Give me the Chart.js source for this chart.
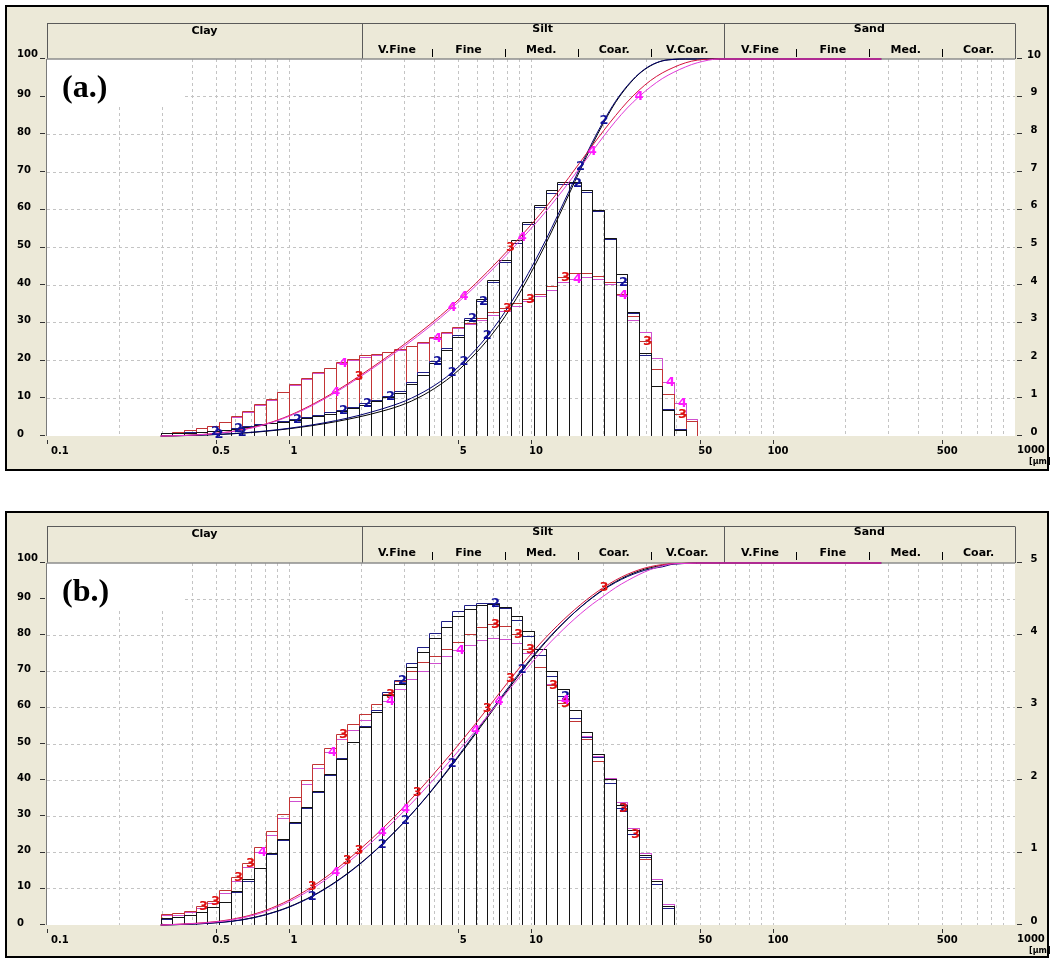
<!DOCTYPE html>
<html>
<head>
<meta charset="utf-8">
<script src="https://cdn.jsdelivr.net/npm/chart.js@4.4.1/dist/chart.umd.min.js"></script>
<style>
  html, body { margin: 0; padding: 0; background: #fff; }
  #wrap { position: relative; width: 1052px; height: 959px; overflow: hidden; }
  canvas { position: absolute; left: 0; }
</style>
</head>
<body>
<div id="wrap">
  <canvas id="ca" width="1052" height="478" style="top:0px"></canvas>
  <canvas id="cb" width="1052" height="481" style="top:478px"></canvas>
</div>
<script>
// ---- size classes (µm): channel edges of the particle sizer ----
const sizeEdges = [0.2950, 0.3296, 0.3683, 0.4115, 0.4598, 0.5138, 0.5741, 0.6415, 0.7168, 0.8009, 0.8949,
  1.0, 1.1174, 1.2486, 1.3951, 1.5589, 1.7418, 1.9463, 2.1747, 2.4300, 2.7152,
  3.0339, 3.3900, 3.7879, 4.2325, 4.7293, 5.2845, 5.9047, 6.5978, 7.3722, 8.2375,
  9.2045, 10.285, 11.492, 12.841, 14.348, 16.032, 17.914, 20.016, 22.366, 24.991,
  27.925, 31.202, 34.864, 38.957, 43.530, 48.641];
// cumulative curves stay at 100 % past the last channel
const tailSizes = [60, 280];
const tailPct = [100, 100];

// ---- axis ticks ----
const xTickValues = [0.1, 0.5, 1, 5, 10, 50, 100, 500, 1000];
const xTickText = ['0.1', '0.5', '1', '5', '10', '50', '100', '500', '1000'];
const gridSizes = [0.2, 0.3, 0.4, 0.5, 0.6, 0.7, 0.8, 0.9, 1, 2, 3, 4, 5, 6, 7, 8, 9,
  10, 20, 30, 40, 50, 60, 70, 80, 90, 100, 200, 300, 400, 500, 600, 700, 800, 900];

// ---- grain-size classes shown in the header band ----
const classNames = ['Clay', 'Silt', 'Sand'];
const classBounds = [0.1, 2, 62.5, 1000];
const siltNames = ['V.Fine', 'Fine', 'Med.', 'Coar.', 'V.Coar.'];
const siltBounds = [2, 3.9, 7.8, 15.6, 31.25, 62.5];
const sandNames = ['V.Fine', 'Fine', 'Med.', 'Coar.'];
const sandBounds = [62.5, 125, 250, 500, 1000];

// ---- sample (a): volume % per channel ----
const histA1 = [0.04, 0.05, 0.06, 0.08, 0.10, 0.13, 0.17, 0.22, 0.27, 0.31, 0.35,
  0.40, 0.45, 0.50, 0.57, 0.64, 0.72, 0.80, 0.90, 1.00, 1.12,
  1.35, 1.60, 1.90, 2.25, 2.60, 3.04, 3.60, 4.10, 4.63, 5.16, 5.65,
  6.11, 6.49, 6.71, 6.71, 6.49, 5.96, 5.22, 4.26, 3.27, 2.18, 1.29, 0.66, 0.13];
const histA2 = [0.04, 0.05, 0.07, 0.09, 0.11, 0.14, 0.18, 0.23, 0.28, 0.32, 0.37,
  0.42, 0.47, 0.53, 0.60, 0.67, 0.75, 0.84, 0.93, 1.04, 1.17,
  1.40, 1.66, 1.95, 2.30, 2.66, 3.10, 3.55, 4.05, 4.58, 5.10, 5.60,
  6.05, 6.42, 6.65, 6.68, 6.45, 5.95, 5.20, 4.05, 3.23, 2.11, 1.29, 0.68, 0.15];
const histA3 = [0.05, 0.09, 0.13, 0.19, 0.25, 0.35, 0.50, 0.63, 0.81, 0.96, 1.15,
  1.35, 1.52, 1.67, 1.79, 1.93, 2.02, 2.11, 2.15, 2.21, 2.28,
  2.37, 2.48, 2.59, 2.73, 2.86, 2.98, 3.10, 3.25, 3.38, 3.50, 3.62,
  3.75, 3.95, 4.20, 4.30, 4.30, 4.22, 4.05, 3.75, 3.15, 2.50, 1.75, 1.09, 0.56, 0.38];
const histA4 = [0.04, 0.08, 0.12, 0.18, 0.24, 0.34, 0.48, 0.61, 0.79, 0.94, 1.13,
  1.32, 1.49, 1.64, 1.77, 1.91, 2.00, 2.08, 2.13, 2.19, 2.26,
  2.35, 2.45, 2.56, 2.70, 2.83, 2.95, 3.05, 3.18, 3.30, 3.42, 3.55,
  3.68, 3.85, 4.05, 4.15, 4.20, 4.15, 4.00, 3.72, 3.05, 2.73, 2.05, 1.40, 0.84, 0.42];

// ---- sample (a): cumulative % at each channel edge ----
const cumA1 = [0, 0.05, 0.11, 0.19, 0.29, 0.41, 0.56, 0.75, 0.98, 1.25, 1.56,
  1.92, 2.32, 2.76, 3.25, 3.8, 4.4, 5.05, 5.78, 6.6, 7.5,
  8.6, 10.0, 11.7, 13.7, 16.0, 18.8, 21.9, 25.4, 29.4, 34.0, 39.1,
  44.8, 50.9, 57.4, 64.1, 70.8, 77.3, 83.2, 88.5, 92.7, 96.0, 98.2, 99.5, 99.9, 100, 100];
const cumA2 = [0, 0.05, 0.12, 0.21, 0.32, 0.45, 0.61, 0.81, 1.05, 1.34, 1.67,
  2.05, 2.48, 2.95, 3.48, 4.07, 4.73, 5.47, 6.3, 7.2, 8.2,
  9.35, 10.8, 12.5, 14.5, 16.9, 19.7, 22.9, 26.5, 30.6, 35.2, 40.3,
  45.9, 51.9, 58.3, 64.9, 71.5, 77.9, 83.7, 88.8, 92.9, 96.1, 98.3, 99.5, 99.9, 100, 100];
const cumA3 = [0, 0.05, 0.15, 0.3, 0.5, 0.8, 1.15, 1.7, 2.35, 3.2, 4.2,
  5.4, 6.8, 8.35, 10.05, 11.85, 13.8, 15.85, 17.95, 20.1, 22.3,
  24.6, 26.95, 29.4, 31.95, 34.65, 37.5, 40.45, 43.5, 46.7, 50.0, 53.4,
  56.9, 60.6, 64.5, 68.6, 72.8, 77.0, 81.1, 85.0, 88.6, 91.7, 94.3, 96.3, 97.8, 99.0, 99.7];
const cumA4 = [0, 0.05, 0.14, 0.28, 0.47, 0.76, 1.1, 1.62, 2.25, 3.07, 4.05,
  5.22, 6.58, 8.1, 9.78, 11.55, 13.48, 15.5, 17.58, 19.7, 21.85,
  24.1, 26.42, 28.85, 31.38, 34.05, 36.88, 39.8, 42.8, 45.95, 49.2, 52.5,
  55.9, 59.5, 63.3, 67.3, 71.4, 75.5, 79.6, 83.5, 87.0, 90.0, 92.6, 94.8, 96.5, 97.9, 99.0];

// ---- sample (b): volume % per channel ----
const histB1 = [0.08, 0.09, 0.12, 0.17, 0.24, 0.31, 0.46, 0.62, 0.78, 0.98, 1.17,
  1.41, 1.61, 1.84, 2.07, 2.28, 2.51, 2.72, 2.93, 3.16, 3.32,
  3.55, 3.76, 3.95, 4.10, 4.25, 4.35, 4.40, 4.42, 4.38, 4.25, 4.05,
  3.80, 3.50, 3.25, 2.95, 2.65, 2.35, 2.00, 1.65, 1.30, 0.95, 0.60, 0.25];
const histB2 = [0.07, 0.09, 0.12, 0.16, 0.23, 0.30, 0.44, 0.60, 0.78, 0.97, 1.16,
  1.40, 1.60, 1.83, 2.06, 2.29, 2.52, 2.74, 2.96, 3.20, 3.37,
  3.60, 3.82, 4.02, 4.18, 4.32, 4.40, 4.44, 4.44, 4.36, 4.20, 3.98,
  3.72, 3.42, 3.15, 2.85, 2.58, 2.30, 1.95, 1.60, 1.25, 0.92, 0.55, 0.22];
const histB3 = [0.14, 0.15, 0.18, 0.25, 0.32, 0.47, 0.65, 0.84, 1.06, 1.29, 1.52,
  1.76, 1.99, 2.21, 2.43, 2.63, 2.76, 2.90, 3.04, 3.17, 3.36,
  3.50, 3.62, 3.70, 3.80, 3.90, 4.00, 4.10, 4.15, 4.12, 4.00, 3.80,
  3.55, 3.30, 3.05, 2.80, 2.55, 2.25, 1.95, 1.60, 1.25, 0.90, 0.55, 0.25];
const histB4 = [0.12, 0.13, 0.16, 0.22, 0.29, 0.43, 0.60, 0.79, 1.00, 1.23, 1.46,
  1.70, 1.93, 2.15, 2.37, 2.55, 2.68, 2.82, 2.96, 3.08, 3.24,
  3.38, 3.50, 3.60, 3.70, 3.78, 3.86, 3.92, 3.95, 3.94, 3.88, 3.75,
  3.55, 3.32, 3.10, 2.85, 2.60, 2.32, 2.02, 1.68, 1.33, 0.98, 0.62, 0.28];

// ---- sample (b): cumulative % at each channel edge ----
const cumB1 = [0, 0.08, 0.17, 0.29, 0.46, 0.70, 1.01, 1.47, 2.09, 2.87, 3.85,
  5.02, 6.43, 8.04, 9.88, 11.95, 14.23, 16.74, 19.46, 22.39, 25.55,
  28.87, 32.42, 36.18, 40.13, 44.23, 48.48, 52.83, 57.23, 61.65, 66.03, 70.28,
  74.33, 78.13, 81.63, 84.88, 87.83, 90.48, 92.83, 94.83, 96.48, 97.78, 98.73, 99.33, 99.8];
const cumB2 = [0, 0.07, 0.16, 0.28, 0.44, 0.67, 0.97, 1.41, 2.01, 2.79, 3.76,
  4.92, 6.32, 7.92, 9.75, 11.81, 14.1, 16.62, 19.36, 22.32, 25.52,
  28.89, 32.49, 36.31, 40.33, 44.51, 48.83, 53.23, 57.67, 62.11, 66.47, 70.67,
  74.65, 78.37, 81.79, 84.94, 87.79, 90.37, 92.67, 94.62, 96.22, 97.47, 98.39, 98.94, 99.7];
const cumB3 = [0, 0.14, 0.29, 0.47, 0.72, 1.04, 1.51, 2.16, 3.0, 4.06, 5.35,
  6.87, 8.63, 10.62, 12.83, 15.26, 17.89, 20.65, 23.55, 26.59, 29.76,
  33.12, 36.62, 40.24, 43.94, 47.74, 51.64, 55.64, 59.74, 63.89, 68.01, 72.01,
  75.81, 79.36, 82.66, 85.71, 88.51, 91.06, 93.31, 95.26, 96.86, 98.11, 99.01, 99.56, 99.85];
const cumB4 = [0, 0.12, 0.25, 0.41, 0.63, 0.92, 1.35, 1.95, 2.74, 3.74, 4.97,
  6.43, 8.13, 10.06, 12.21, 14.58, 17.13, 19.81, 22.63, 25.59, 28.67,
  31.91, 35.29, 38.79, 42.39, 46.09, 49.87, 53.73, 57.65, 61.60, 65.54, 69.42,
  73.17, 76.72, 80.04, 83.14, 86.0, 88.6, 90.92, 93.2, 95.1, 96.8, 98.2, 99.2, 99.8];

// ---- channels / edges that carry the run number on each trace (channel index k, 1 µm = 0) ----
const histMarksA2 = [-7, -5, 0, 4, 6, 8, 12, 15, 16, 24, 28];
const cumMarksA2 = [-6, -4, 14, 15, 17, 25, 27];
const histMarksA3 = [18, 20, 23, 30, 33];
const cumMarksA3 = [6, 19];
const histMarksA4 = [4, 12, 24, 28, 32, 33];
const cumMarksA4 = [4, 14, 15, 20, 26, 30];

const histMarksB2 = [9, 17, 23, 28];
const cumMarksB2 = [2, 8, 10, 14, 20];
const histMarksB3 = [-8, -7, -5, -4, 4, 8, 17, 19, 20, 22, 23, 28, 29];
const cumMarksB3 = [2, 5, 6, 11, 17, 19, 27];
const histMarksB4 = [-3, 3, 8, 14, 23];
const cumMarksB4 = [4, 8, 10, 16, 18];

// ---- look of the four runs ----
const runStyle = [
  { digit: '1', hist: '#141414', curve: '#000000', mark: '#000000' },
  { digit: '2', hist: '#1e1e86', curve: '#00006e', mark: '#10109a' },
  { digit: '3', hist: '#c23434', curve: '#d4103c', mark: '#e01010' },
  { digit: '4', hist: '#cf4fcf', curve: '#e03ad8', mark: '#ff18ff' }
];

const FIRST_K = -11; // channel index of sizeEdges[0]

// outline of a channel histogram: each channel as an open box standing on the axis
function outline(vals) {
  const pts = [];
  vals.forEach((v, j) => {
    pts.push({ x: sizeEdges[j], y: 0 }, { x: sizeEdges[j], y: v },
             { x: sizeEdges[j + 1], y: v }, { x: sizeEdges[j + 1], y: 0 });
  });
  return pts;
}
function curve(vals) {
  const pts = vals.map((v, i) => ({ x: sizeEdges[i], y: v }));
  tailSizes.forEach((s, i) => pts.push({ x: s, y: tailPct[i] }));
  return pts;
}

const PANELS = [
  {
    canvas: 'ca', tag: '(a.)', rightMax: 10, height: 478,
    box: { left: 6, top: 6, right: 1048, bottom: 470 },
    headerTop: 23, plotTop: 59, plotBottom: 436,
    runs: [
      { style: 0, hist: histA1, cum: cumA1, hm: [], cm: [] },
      { style: 1, hist: histA2, cum: cumA2, hm: histMarksA2, cm: cumMarksA2 },
      { style: 2, hist: histA3, cum: cumA3, hm: histMarksA3, cm: cumMarksA3 },
      { style: 3, hist: histA4, cum: cumA4, hm: histMarksA4, cm: cumMarksA4 }
    ]
  },
  {
    canvas: 'cb', tag: '(b.)', rightMax: 5, height: 481,
    box: { left: 6, top: 34, right: 1048, bottom: 479 },
    headerTop: 48, plotTop: 85, plotBottom: 447,
    runs: [
      { style: 0, hist: histB1, cum: cumB1, hm: [], cm: [] },
      { style: 1, hist: histB2, cum: cumB2, hm: histMarksB2, cm: cumMarksB2 },
      { style: 2, hist: histB3, cum: cumB3, hm: histMarksB3, cm: cumMarksB3 },
      { style: 3, hist: histB4, cum: cumB4, hm: histMarksB4, cm: cumMarksB4 }
    ]
  }
];

const PLOT_LEFT = 47, PLOT_RIGHT = 1015;
const BEIGE = '#ece9d8';
const UI_FONT = '"DejaVu Sans", "Liberation Sans", sans-serif';

// keeps the channel outlines on whole pixels so the box edges stay sharp
const crispBoxes = {
  id: 'crispBoxes',
  beforeDatasetDraw(chart, args) {
    const ds = chart.data.datasets[args.index];
    if (!ds.crisp) return;
    args.meta.data.forEach(pt => {
      pt.x = Math.round(pt.x) + 0.5;
      pt.y = Math.round(pt.y) - 0.5;
    });
  }
};

// draws the run numbers sitting on the traces
const runDigits = {
  id: 'runDigits',
  afterDatasetsDraw(chart) {
    const ctx = chart.ctx;
    chart.data.datasets.forEach((ds, i) => {
      if (!ds.markIdx || !ds.markIdx.length) return;
      const meta = chart.getDatasetMeta(i);
      ctx.save();
      ctx.font = 'bold 13px ' + UI_FONT;
      ctx.fillStyle = ds.markColor;
      ctx.textAlign = 'center';
      ctx.textBaseline = 'middle';
      ds.markIdx.forEach(idx => {
        const p = meta.data[idx];
        if (p) ctx.fillText(ds.markText, p.x + ds.markDx, p.y);
      });
      ctx.restore();
    });
  }
};

function makeChrome(P) {
  return {
    id: 'chrome',
    beforeDraw(chart) {
      const { ctx, chartArea: ca, scales } = chart;
      const x = scales.x, yL = scales.yL, yR = scales.yR;
      ctx.save();
      ctx.fillStyle = '#fff';
      ctx.fillRect(0, 0, chart.width, chart.height);
      const b = P.box;
      ctx.fillStyle = BEIGE;
      ctx.fillRect(b.left, b.top, b.right - b.left, b.bottom - b.top);
      ctx.strokeStyle = '#000';
      ctx.lineWidth = 2;
      ctx.strokeRect(b.left, b.top, b.right - b.left, b.bottom - b.top);
      ctx.fillStyle = '#fff';
      ctx.fillRect(ca.left, ca.top, ca.right - ca.left, ca.bottom - ca.top);

      // header band with the grain-size classes
      const hTop = P.headerTop + 0.5, hBot = ca.top;
      ctx.strokeStyle = '#5a5a5a';
      ctx.lineWidth = 1;
      ctx.beginPath();
      ctx.moveTo(ca.left, hTop); ctx.lineTo(ca.right, hTop);
      classBounds.forEach(v => {
        const px = Math.round(x.getPixelForValue(v)) + 0.5;
        ctx.moveTo(px, hTop); ctx.lineTo(px, hBot);
      });
      ctx.stroke();
      ctx.fillStyle = '#000';
      ctx.font = 'bold 11px ' + UI_FONT;
      ctx.textAlign = 'center';
      ctx.textBaseline = 'middle';
      classNames.forEach((n, i) => {
        const cx = (x.getPixelForValue(classBounds[i]) + x.getPixelForValue(classBounds[i + 1])) / 2;
        ctx.fillText(n, cx, P.headerTop + (i === 0 ? 8.5 : 6.5));
      });
      const subRow = (names, bounds) => {
        names.forEach((n, i) => {
          const cx = (x.getPixelForValue(bounds[i]) + x.getPixelForValue(bounds[i + 1])) / 2;
          ctx.fillText(n, cx, P.headerTop + 27.5);
        });
        ctx.beginPath();
        bounds.slice(1, -1).forEach(v => {
          const px = Math.round(x.getPixelForValue(v)) + 0.5;
          ctx.moveTo(px, P.headerTop + 26); ctx.lineTo(px, P.headerTop + 34);
        });
        ctx.strokeStyle = '#000';
        ctx.stroke();
      };
      subRow(siltNames, siltBounds);
      subRow(sandNames, sandBounds);

      // left axis: cumulative %
      ctx.font = 'bold 10px ' + UI_FONT;
      ctx.textAlign = 'left';
      ctx.strokeStyle = '#333';
      for (let v = 0; v <= 100; v += 10) {
        const py = yL.getPixelForValue(v);
        ctx.fillText(String(v), 17, v === 100 ? py - 5 : py - 2);
        ctx.beginPath();
        ctx.moveTo(40, Math.round(py) - 0.5); ctx.lineTo(45, Math.round(py) - 0.5);
        ctx.stroke();
      }
      // right axis: % per channel
      ctx.textAlign = 'center';
      for (let v = 0; v <= P.rightMax; v += 1) {
        const py = yR.getPixelForValue(v);
        ctx.fillText(String(v), 1034, py - 4);
        ctx.beginPath();
        ctx.moveTo(1017, Math.round(py) - 0.5); ctx.lineTo(1022, Math.round(py) - 0.5);
        ctx.stroke();
      }
      // size axis
      xTickValues.forEach((v, i) => {
        const px = x.getPixelForValue(v);
        const last = i === xTickValues.length - 1;
        if (i === 0) { ctx.textAlign = 'left'; ctx.fillText(xTickText[i], px + 4, ca.bottom + 15); }
        else if (last) { ctx.textAlign = 'left'; ctx.fillText(xTickText[i], px + 2, ca.bottom + 14); }
        else { ctx.textAlign = 'center'; ctx.fillText(xTickText[i], px + 5, ca.bottom + 15); }
        if (!last) {
          ctx.beginPath();
          ctx.moveTo(Math.round(px) + 0.5, ca.bottom + 4); ctx.lineTo(Math.round(px) + 0.5, ca.bottom + 8);
          ctx.stroke();
        }
      });
      ctx.textAlign = 'left';
      ctx.font = 'bold 8px ' + UI_FONT;
      ctx.fillText('[µm]', 1029, ca.bottom + 26);
      ctx.restore();
    },
    beforeDatasetsDraw(chart) {
      const { ctx, chartArea: ca } = chart;
      ctx.save();
      // sample tag on its own white patch
      ctx.fillStyle = '#fff';
      ctx.fillRect(ca.left, ca.top, 136, 48);
      ctx.fillStyle = '#000';
      ctx.font = 'bold 32px "Liberation Serif", "Times New Roman", serif';
      ctx.textAlign = 'left';
      ctx.textBaseline = 'alphabetic';
      ctx.fillText(P.tag, 62, ca.top + 38);
      // top edge of the plot and the left axis line
      ctx.strokeStyle = '#8c8c8c';
      ctx.lineWidth = 1.5;
      ctx.beginPath();
      ctx.moveTo(ca.left, ca.top); ctx.lineTo(ca.right, ca.top);
      ctx.stroke();
      ctx.strokeStyle = '#7a7a7a';
      ctx.lineWidth = 1;
      ctx.beginPath();
      ctx.moveTo(ca.left - 0.5, ca.top); ctx.lineTo(ca.left - 0.5, ca.bottom);
      ctx.stroke();
      ctx.restore();
    }
  };
}

function buildPanel(P) {
  const datasets = [];
  P.runs.forEach((r, si) => {
    const st = runStyle[r.style];
    datasets.push({
      label: 'cumulative ' + st.digit,
      data: curve(r.cum),
      yAxisID: 'yL',
      borderColor: st.curve,
      borderWidth: 1,
      pointRadius: 0,
      cubicInterpolationMode: 'monotone',
      clip: 3,
      order: 3 - si,
      markIdx: r.cm.map(k => k - FIRST_K),
      markText: st.digit, markColor: st.mark, markDx: 0
    });
    datasets.push({
      label: 'channel % ' + st.digit,
      data: outline(r.hist),
      yAxisID: 'yR',
      borderColor: st.hist,
      borderWidth: 1,
      pointRadius: 0,
      tension: 0,
      crisp: true,
      order: 10 + si,
      markIdx: r.hm.map(k => 4 * (k - FIRST_K) + 2),
      markText: st.digit, markColor: st.mark, markDx: -4
    });
  });

  const ctx = document.getElementById(P.canvas).getContext('2d');
  return new Chart(ctx, {
    type: 'line',
    data: { datasets },
    options: {
      responsive: false,
      animation: false,
      devicePixelRatio: 1,
      layout: { padding: { left: PLOT_LEFT, right: 1052 - PLOT_RIGHT, top: P.plotTop, bottom: P.height - P.plotBottom } },
      plugins: { legend: { display: false }, tooltip: { enabled: false }, title: { display: false } },
      elements: { line: { fill: false } },
      scales: {
        x: {
          type: 'logarithmic', min: 0.1, max: 1000,
          afterBuildTicks: sc => { sc.ticks = gridSizes.map(v => ({ value: v })); },
          ticks: { display: false, autoSkip: false },
          grid: { color: '#c4c4c4', lineWidth: 1, drawTicks: false },
          border: { display: false, dash: [3, 3] },
          afterFit: sc => { sc.height = 0; }
        },
        yL: {
          type: 'linear', position: 'left', min: 0, max: 100,
          ticks: { display: false, stepSize: 10 },
          grid: {
            drawTicks: false,
            color: c => (c.tick && (c.tick.value === 0 || c.tick.value === 100)) ? 'rgba(0,0,0,0)' : '#c4c4c4'
          },
          border: { display: false, dash: [3, 3] },
          afterFit: sc => { sc.width = 0; }
        },
        yR: {
          type: 'linear', position: 'right', min: 0, max: P.rightMax,
          ticks: { display: false },
          grid: { display: false, drawTicks: false },
          border: { display: false },
          afterFit: sc => { sc.width = 0; }
        }
      }
    },
    plugins: [makeChrome(P), crispBoxes, runDigits]
  });
}

PANELS.forEach(buildPanel);
</script>
</body>
</html>
